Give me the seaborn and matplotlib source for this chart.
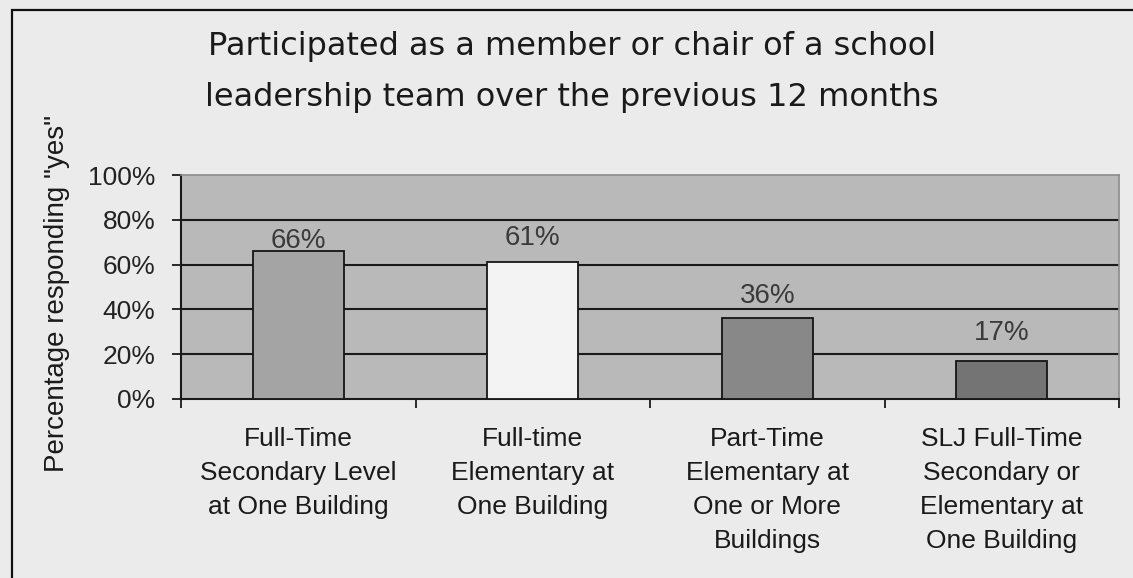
import matplotlib
matplotlib.use("Agg")
import matplotlib.pyplot as plt
import seaborn as sns
import pandas as pd
from matplotlib.patches import Rectangle

categories = [
    "Full-Time\nSecondary Level\nat One Building",
    "Full-time\nElementary at\nOne Building",
    "Part-Time\nElementary at\nOne or More\nBuildings",
    "SLJ Full-Time\nSecondary or\nElementary at\nOne Building",
]
values = [66, 61, 36, 17]
bar_colors = ["#a4a4a4", "#f3f3f3", "#888888", "#747474"]
y_ticks = [0, 20, 40, 60, 80, 100]
title = "Participated as a member or chair of a school\nleadership team over the previous 12 months"
y_label = 'Percentage responding "yes"'

sns.set_theme(style="white")
plt.rcParams["font.family"] = ["Liberation Sans", "DejaVu Sans"]

df = pd.DataFrame({"group": categories, "pct": values})

W, H = 1133, 578
fig = plt.figure(figsize=(W / 100, H / 100), dpi=100, facecolor="#ebebeb")

# scanned page frame (only left and top edges show)
fig.patches.append(Rectangle((12 / W, -0.1), 1.2, 1.1 - 10 / H,
                             transform=fig.transFigure, fill=False,
                             edgecolor="#111111", linewidth=1.6))

ax = fig.add_axes([181 / W, 1 - 399 / H, (1119 - 181) / W, (399 - 175) / H])
ax.set_facecolor("#b9b9b9")

sns.barplot(data=df, x="group", y="pct", hue="group", palette=bar_colors,
            width=0.39, edgecolor="#151515", linewidth=1.3, legend=False,
            ax=ax, zorder=3)

ax.set_ylim(0, 100)
ax.set_xlim(-0.5, 3.5)
ax.set_yticks(y_ticks)
ax.set_yticklabels([f"{t}%" for t in y_ticks], fontsize=19, color="#222222")
for t in [20, 40, 60, 80]:
    ax.axhline(t, color="#1a1a1a", linewidth=1.5, zorder=1)

# category labels centred under bars, tick marks at the category boundaries
ax.set_xticks(range(len(categories)))
ax.set_xticklabels(categories, fontsize=19, color="#1a1a1a", linespacing=1.53)
ax.tick_params(axis="x", which="major", length=0, pad=20)
ax.set_xticks([-0.5, 0.5, 1.5, 2.5, 3.5], minor=True)
ax.tick_params(axis="x", which="minor", bottom=True, length=6.5, width=1.3,
               color="#1a1a1a", direction="out")
ax.tick_params(axis="y", left=True, length=6.5, width=1.3, color="#1a1a1a",
               direction="out", pad=12)

for side in ["left", "bottom"]:
    ax.spines[side].set_color("#1a1a1a")
    ax.spines[side].set_linewidth(1.5)
for side in ["top", "right"]:
    ax.spines[side].set_color("#8c8c8c")
    ax.spines[side].set_linewidth(1.2)

# value labels sit at slightly different heights in the original
label_pads = [-2, 8, 7, 11]
for c, pad in zip(ax.containers, label_pads):
    ax.bar_label(c, fmt="%.0f%%", padding=pad, fontsize=20, color="#3a3a3a")

ax.set_xlabel("")
ax.set_ylabel(y_label, fontsize=20, color="#1a1a1a")
ax.yaxis.set_label_coords(-111 / 938, 0.47)

fig.text(572 / W, 1 - 72 / H, title, ha="center", va="center", fontsize=23,
         color="#1a1a1a", linespacing=1.85, family=["DejaVu Sans"])

fig.savefig("out.png", dpi=100, facecolor=fig.get_facecolor())
